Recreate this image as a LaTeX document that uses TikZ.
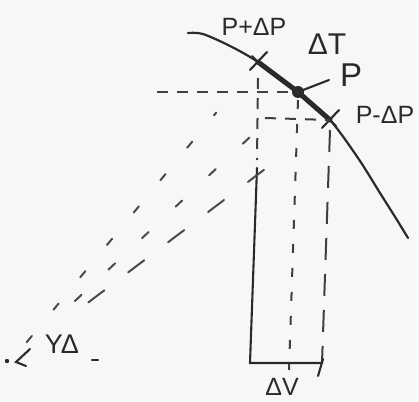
\documentclass[tikz,border=0pt]{standalone}
\usepackage{fontspec}
\setmainfont{Liberation Sans}
\usetikzlibrary{calc}
\definecolor{ink}{HTML}{2A2A2A}
\definecolor{paper}{HTML}{F6F7F9}
\tikzset{
  curve/.style={draw=ink,line width=2.2pt,line cap=round},
  thickpart/.style={draw=ink,line width=5pt,line cap=round},
  edge/.style={draw=ink,line width=2.1pt,line cap=round},
  guide/.style={draw=ink!90,line width=2pt,dash pattern=on 11pt off 9pt},
  longguide/.style={draw=ink!90,line width=2pt,dash pattern=on 22pt off 14pt},
  ray/.style={draw=ink!85,line width=2pt,line cap=round},
  tag/.style={text=ink,inner sep=1pt,font=\fontsize{22}{22}\selectfont}
}
\newcommand{\crossmark}[1]{%
  \draw[edge] ($(#1)+(-8,8)$) -- ($(#1)+(9,-10)$)
    ($(#1)+(-6,-6)$) -- ($(#1)+(6,6)$);
}

\begin{document}
\begin{tikzpicture}[x=1pt,y=-1pt]
  \fill[paper] (0,0) rectangle (419,401);
  \useasboundingbox (0,0) rectangle (419,401);

  % Points on the curve and the origin.
  \coordinate (pp) at (258,62);
  \coordinate (p) at (298,92);
  \coordinate (pm) at (330,120);
  \coordinate (o) at (12,360);

  % Curve with the thick piece between P+dP and P-dP.
  \draw[curve] plot[smooth] coordinates {(188,33) (203,34) (230,46) (pp) (p) (pm)
    (358,158) (380,193) (397,220) (408,238)};
  \draw[thickpart] (pp) -- (p) -- (pm);
  \fill[ink] (p) circle (6);
  \crossmark{pp}
  \crossmark{pm}

  % Labels.
  \node[tag,font=\fontsize{25}{25}\selectfont] (lblpp) at (254,27) {P+ΔP};
  \node[tag,font=\fontsize{30}{30}\selectfont] (lbldt) at (327,44) {ΔT};
  \node[tag,font=\fontsize{33}{33}\selectfont] (lblp) at (351,75) {P};
  \node[tag,font=\fontsize{25}{25}\selectfont] (lblpm) at (385,115) {P-ΔP};
  \node[tag,font=\fontsize{25}{25}\selectfont] (lbldv) at (282,387) {ΔV};
  \node[tag,font=\fontsize{27}{27}\selectfont] (lblang) at (62,344) {ΥΔ};
  \coordinate (pleader) at (329,80);
  \draw[edge] (p) -- (pleader);

  % Horizontal guides.
  \coordinate (hp) at (157,92);
  \coordinate (hpm) at (265,118);
  \draw[guide] (hp) -- (p);
  \draw[guide] (hpm) -- (pm);

  % Verticals down to the volume axis.
  \coordinate (lv) at (257,168);
  \coordinate (b1) at (250,363);
  \coordinate (b2) at (289,363);
  \coordinate (b3) at (322,363);
  \coordinate (t2) at (289,370);
  \coordinate (t3) at (318,376);
  \draw[guide] ($(pp)+(0,16)$) -- ($(lv)+(0,-8)$);
  \draw[edge] (lv) -- (b1) -- (b3);
  \draw[guide,dash pattern=on 9pt off 15pt] ($(p)+(0,8)$) -- (t2);
  \draw[longguide] ($(pm)+(0,10)$) -- (b3);
  \draw[edge] ($(b3)+(1,-4)$) -- (t3);

  % Rays from the origin.
  \coordinate (r1) at ($(o)!0.83!(pp)$);
  \coordinate (r2) at ($(o)!0.83!(p)$);
  \coordinate (r3) at ($(o)!0.85!(pm)$);
  \draw[ray,dash pattern=on 8pt off 34pt] ($(o)!0.06!(pp)$) -- (r1);
  \draw[ray,dash pattern=on 9pt off 37pt] ($(o)!0.22!(p)$) -- (r2);
  \draw[ray,dash pattern=on 20pt off 30pt] ($(o)!0.24!(pm)$) -- (r3);
  \fill[ink] (7,361) circle (2.2);
  \draw[edge] (30,349) -- (16,362) -- (26,366);
  \draw[edge] (92,360) -- (98,360);
\end{tikzpicture}
\end{document}
